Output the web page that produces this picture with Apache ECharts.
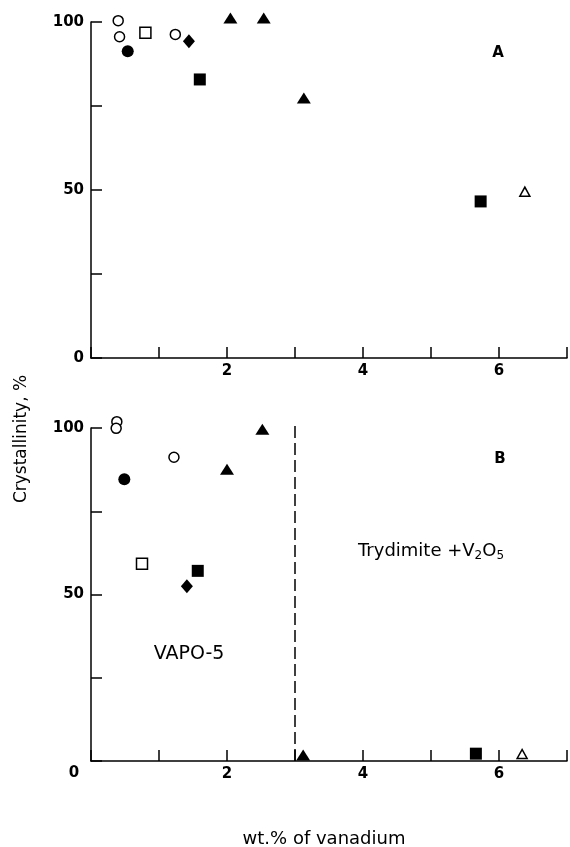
<!DOCTYPE html>
<html>
<head>
<meta charset="utf-8">
<script src="https://cdn.jsdelivr.net/npm/echarts@6/dist/echarts.min.js"></script>
<style>
  html, body { margin: 0; padding: 0; background: #fff; }
  #chart { width: 570px; height: 847px; }
</style>
</head>
<body>
<div id="chart"></div>
<script>
// Crystallinity (%) against vanadium loading (wt.%), two panels A and B.
// Each array holds [wt.% V, crystallinity %] pairs for one sample family.

// Panel A
const aOpenCircle     = [[0.40, 100.4], [0.42, 95.6], [1.24, 96.3]];
const aFilledCircle   = [[0.54, 91.3]];
const aOpenSquare     = [[0.80, 96.8]];
const aFilledDiamond  = [[1.44, 94.3]];
const aFilledSquare   = [[1.60, 82.9], [5.73, 46.6]];
const aFilledTriangle = [[2.05, 101.2], [2.54, 101.2], [3.13, 77.4]];
const aOpenTriangle   = [[6.38, 49.5]];

// Panel B
const bOpenCircle     = [[0.38, 101.9], [0.37, 99.9], [1.22, 91.2]];
const bFilledCircle   = [[0.49, 84.6]];
const bOpenSquare     = [[0.75, 59.2]];
const bFilledDiamond  = [[1.41, 52.5]];
const bFilledSquare   = [[1.57, 57.1], [5.66, 2.2]];
const bFilledTriangle = [[2.00, 87.6], [2.52, 99.6], [3.12, 1.8]];
const bOpenTriangle   = [[6.34, 2.1]];

// Phase boundary in panel B (VAPO-5 | trydimite + V2O5)
const phaseBoundary = [[3, 0], [3, 101]];

// Axis tick labels
const xTickLabels = [2, 4, 6];
const yTickLabels = [0, 50, 100];

const X_MIN = 0, X_MAX = 7, X_STEP = 1;
const Y_MIN = 0, Y_MAX = 100, Y_STEP = 25;

const BLACK = '#000';
const tickFont = { fontFamily: 'DejaVu Sans', fontWeight: 'bold', fontSize: 15, color: BLACK };

function xAxisFor(gridIndex) {
  return {
    type: 'value', gridIndex, min: X_MIN, max: X_MAX, interval: X_STEP,
    axisLine: { show: true, onZero: false, lineStyle: { color: BLACK, width: 1.5 } },
    axisTick: { show: true, inside: true, length: 11, lineStyle: { color: BLACK, width: 1.5 } },
    splitLine: { show: false },
    axisLabel: Object.assign({
      margin: 6,
      formatter: v => (xTickLabels.includes(v) ? String(v) : '')
    }, tickFont)
  };
}

function yAxisFor(gridIndex, hideZero) {
  return {
    type: 'value', gridIndex, min: Y_MIN, max: Y_MAX, interval: Y_STEP,
    axisLine: { show: true, onZero: false, lineStyle: { color: BLACK, width: 1.5 } },
    axisTick: { show: true, inside: true, length: 11, lineStyle: { color: BLACK, width: 1.5 } },
    splitLine: { show: false },
    axisLabel: Object.assign({
      margin: 7,
      formatter: v => (yTickLabels.includes(v) && !(hideZero && v === 0) ? String(v) : '')
    }, tickFont)
  };
}

const openStyle   = { color: '#fff', borderColor: BLACK, borderWidth: 1.5, opacity: 1 };
const filledStyle = { color: BLACK, borderWidth: 0, opacity: 1 };

function scatter(name, data, idx, symbol, size, style) {
  return {
    name, type: 'scatter', data, xAxisIndex: idx, yAxisIndex: idx,
    symbol, symbolSize: size, itemStyle: style, clip: false,
    emphasis: { disabled: true }, z: 3
  };
}

function panelSeries(idx, d) {
  return [
    scatter('Open circle', d.openCircle, idx, 'circle', 10, openStyle),
    scatter('Filled circle', d.filledCircle, idx, 'circle', 12, filledStyle),
    scatter('Open square', d.openSquare, idx, 'rect', 11, openStyle),
    scatter('Filled diamond', d.filledDiamond, idx, 'diamond', [12, 14], filledStyle),
    scatter('Filled square', d.filledSquare, idx, 'rect', 12, filledStyle),
    scatter('Filled triangle', d.filledTriangle, idx, 'triangle', [14, 11], filledStyle),
    scatter('Open triangle', d.openTriangle, idx, 'triangle', [10, 9], openStyle)
  ];
}

const seriesA = panelSeries(0, {
  openCircle: aOpenCircle, filledCircle: aFilledCircle, openSquare: aOpenSquare,
  filledDiamond: aFilledDiamond, filledSquare: aFilledSquare,
  filledTriangle: aFilledTriangle, openTriangle: aOpenTriangle
});
const seriesB = panelSeries(1, {
  openCircle: bOpenCircle, filledCircle: bFilledCircle, openSquare: bOpenSquare,
  filledDiamond: bFilledDiamond, filledSquare: bFilledSquare,
  filledTriangle: bFilledTriangle, openTriangle: bOpenTriangle
});

// Dashed boundary between the VAPO-5 and trydimite regions
seriesB.push({
  name: 'Phase boundary', type: 'line', data: phaseBoundary,
  xAxisIndex: 1, yAxisIndex: 1, symbol: 'none', silent: true, clip: false,
  lineStyle: { color: BLACK, width: 1.5, type: [12, 5] }, z: 2
});

const textFont = 'DejaVu Sans';

const option = {
  backgroundColor: '#fff',
  animation: false,
  grid: [
    { left: 91, top: 22, width: 477, height: 336 },
    { left: 91, top: 428, width: 477, height: 333 }
  ],
  xAxis: [xAxisFor(0), xAxisFor(1)],
  yAxis: [yAxisFor(0, false), yAxisFor(1, true)],
  series: seriesA.concat(seriesB),
  graphic: [
    { type: 'text', x: 498, y: 53, style: { text: 'A', fontFamily: textFont, fontWeight: 'bold', fontSize: 15, fill: BLACK, align: 'center', verticalAlign: 'middle' } },
    { type: 'text', x: 500, y: 459, style: { text: 'B', fontFamily: textFont, fontWeight: 'bold', fontSize: 15, fill: BLACK, align: 'center', verticalAlign: 'middle' } },
    { type: 'text', x: 74, y: 773, style: { text: '0', fontFamily: textFont, fontWeight: 'bold', fontSize: 15, fill: BLACK, align: 'center', verticalAlign: 'middle' } },
    { type: 'text', x: 189, y: 654, style: { text: 'VAPO-5', fontFamily: textFont, fontSize: 19, fill: BLACK, align: 'center', verticalAlign: 'middle' } },
    { type: 'text', x: 358, y: 551, style: {
        text: '{a|Trydimite +V}{s|2}{a|O}{s|5}', align: 'left', verticalAlign: 'middle',
        rich: {
          a: { fontFamily: textFont, fontSize: 18, fill: BLACK, color: BLACK },
          s: { fontFamily: textFont, fontSize: 12, fill: BLACK, color: BLACK, padding: [10, 0, 0, 0] }
        }
      } },
    { type: 'text', x: 324, y: 839, style: { text: 'wt.% of vanadium', fontFamily: textFont, fontSize: 18, fill: BLACK, align: 'center', verticalAlign: 'middle' } },
    { type: 'text', x: 22, y: 439, rotation: Math.PI / 2, style: { text: 'Crystallinity, %', fontFamily: textFont, fontSize: 17, fill: BLACK, align: 'center', verticalAlign: 'middle' } }
  ]
};

const chart = echarts.init(document.getElementById('chart'), null, { renderer: 'canvas' });
chart.setOption(option);
</script>
</body>
</html>
